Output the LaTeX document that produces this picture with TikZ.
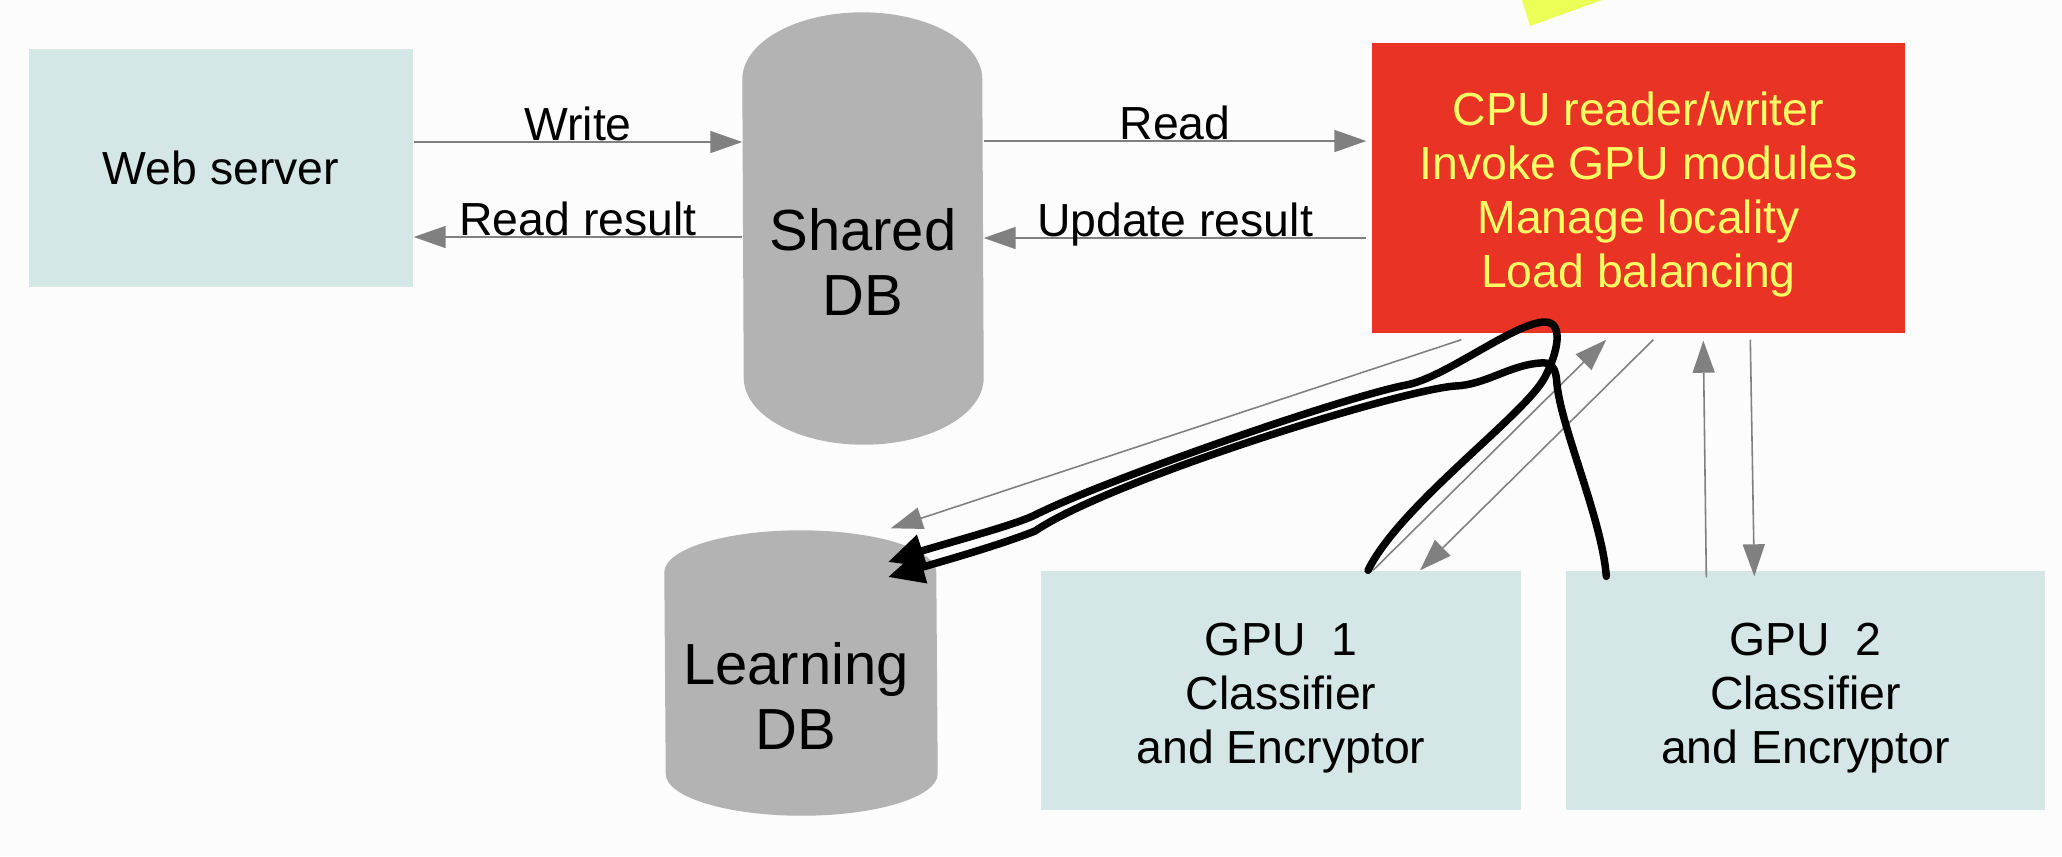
\documentclass[tikz,border=0pt]{standalone}
\usepackage{fontspec}
\setmainfont{Liberation Sans}
\usetikzlibrary{arrows.meta}

\definecolor{paper}{RGB}{252,252,252}
\definecolor{boxblue}{RGB}{213,230,230}
\definecolor{dbgray}{RGB}{179,179,179}
\definecolor{cpured}{RGB}{233,51,36}
\definecolor{cpuyellow}{RGB}{255,255,102}
\definecolor{linegray}{RGB}{128,128,128}
\definecolor{noteyellow}{RGB}{236,255,86}

\begin{document}
\begin{tikzpicture}[
		unit/.style={fill=boxblue,inner sep=0pt,align=center,font=\fontsize{13.2}{15.4}\selectfont},
		dbhold/.style={inner sep=0pt},
		dbtext/.style={align=center,font=\fontsize{16.5}{18.5}\selectfont},
		flow/.style={draw=linegray,line width=0.45pt,-{Triangle[length=0.32cm,width=0.22cm]}},
		lbl/.style={anchor=base,inner sep=0pt,yshift=0.02cm,font=\fontsize{13.2}{15.4}\selectfont},
		scribble/.style={line width=0.075cm,line cap=round,line join=round,-{Triangle[length=0.36cm,width=0.32cm]}}
	]
	\fill[paper] (0,0) rectangle (20.62,-8.56);
	\useasboundingbox (0,0) rectangle (20.62,-8.56);
	\fill[noteyellow] (15.19,0.10) -- (15.30,-0.26) -- (16.30,0.10) -- cycle;

	\node[unit,minimum width=3.84cm,minimum height=2.38cm] (web) at (2.21,-1.68) {Web server};

	\node[dbhold,minimum width=2.40cm,minimum height=4.31cm] (shared) at (8.63,-2.285) {};
	\fill[dbgray] ([yshift=-0.67cm]shared.north west) arc[start angle=180,end angle=0,x radius=1.2cm,y radius=0.67cm]
		-- ([yshift=0.67cm]shared.south east) arc[start angle=0,end angle=-180,x radius=1.2cm,y radius=0.67cm] -- cycle;
	\node[dbtext] (sharedlbl) at ([yshift=-0.33cm]shared.center) {Shared\\DB};

	\node[dbhold,minimum width=2.72cm,minimum height=2.84cm] (learn) at (8.01,-6.73) {};
	\fill[dbgray] ([yshift=-0.42cm]learn.north west) arc[start angle=180,end angle=0,x radius=1.36cm,y radius=0.42cm]
		-- ([yshift=0.42cm]learn.south east) arc[start angle=0,end angle=-180,x radius=1.36cm,y radius=0.42cm] -- cycle;
	\node[dbtext] (learnlbl) at ([xshift=-0.05cm,yshift=-0.225cm]learn.center) {Learning\\DB};

	\node[unit,fill=cpured,text=cpuyellow,minimum width=5.33cm,minimum height=2.90cm] (cpu) at (16.385,-1.88)
		{\rule{0pt}{0.47cm}CPU reader/writer\\Invoke GPU modules\\Manage locality\\Load balancing};
	\node[unit,minimum width=4.80cm,minimum height=2.39cm] (gpuA) at (12.81,-6.905) {\rule{0pt}{0.47cm}GPU\ \ 1\\Classifier\\and Encryptor};
	\node[unit,minimum width=4.79cm,minimum height=2.39cm] (gpuB) at (18.055,-6.905) {\rule{0pt}{0.47cm}GPU\ \ 2\\Classifier\\and Encryptor};

	\coordinate (w) at ([yshift=0.26cm]web.east);
	\coordinate (r) at ([yshift=-0.69cm]web.east);
	\coordinate (u) at ([xshift=-0.05cm,yshift=0.47cm]cpu.west);
	\coordinate (d) at ([xshift=-0.05cm,yshift=-0.50cm]cpu.west);
	\draw[flow] (w) -- (w -| shared.west) node[lbl,midway] {Write};
	\draw[flow] (r -| shared.west) -- (r) node[lbl,midway] {Read result};
	\draw[flow] (u -| shared.east) -- (u) node[lbl,midway] {Read};
	\draw[flow] (d) -- (d -| shared.east) node[lbl,midway] {Update result};

	\draw[flow] ([xshift=0.90cm,yshift=-0.06cm]cpu.south west) -- ([xshift=-0.47cm,yshift=0.02cm]learn.north east);
	\draw[flow] ([xshift=0.92cm]gpuA.north) -- ([xshift=2.35cm,yshift=-0.06cm]cpu.south west);
	\draw[flow] ([xshift=2.82cm,yshift=-0.06cm]cpu.south west) -- ([xshift=1.39cm]gpuA.north);
	\draw[flow] ([xshift=1.41cm,yshift=-0.07cm]gpuB.north west) -- ([xshift=3.32cm,yshift=-0.07cm]cpu.south west);
	\draw[flow] ([xshift=3.79cm,yshift=-0.06cm]cpu.south west) -- ([xshift=1.89cm,yshift=-0.06cm]gpuB.north west);

	\coordinate (a0) at ([xshift=0.87cm]gpuA.north);
	\coordinate (b0) at ([xshift=0.41cm,yshift=-0.06cm]gpuB.north west);
	\draw[scribble] (a0) .. controls (14.00,-5.05) and (15.25,-4.15) .. (15.45,-3.77)
		.. controls (15.58,-3.52) and (15.64,-3.22) .. (15.45,-3.22)
		.. controls (15.15,-3.22) and (14.45,-3.78) .. (14.06,-3.85)
		.. controls (13.40,-3.98) and (11.00,-4.82) .. (10.35,-5.15)
		.. controls (10.15,-5.25) and (9.40,-5.45) .. (8.88,-5.62);
	\draw[scribble] (b0) .. controls (16.02,-5.20) and (15.62,-4.30) .. (15.57,-3.85)
		.. controls (15.56,-3.65) and (15.50,-3.62) .. (15.40,-3.63)
		.. controls (15.10,-3.65) and (14.85,-3.85) .. (14.55,-3.86)
		.. controls (14.00,-3.90) and (11.10,-4.80) .. (10.35,-5.31)
		.. controls (10.00,-5.45) and (9.40,-5.62) .. (8.88,-5.77);
\end{tikzpicture}
\end{document}
